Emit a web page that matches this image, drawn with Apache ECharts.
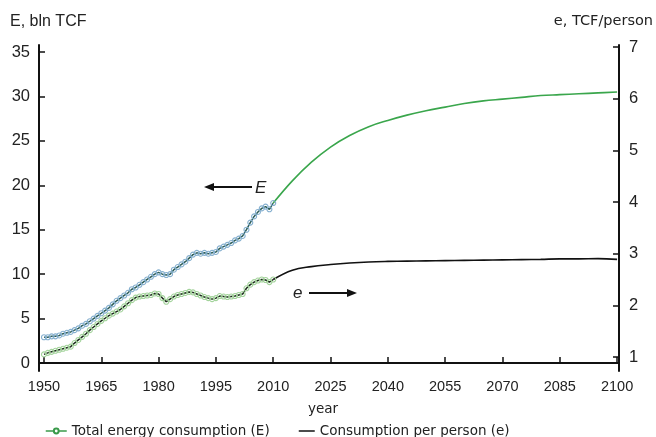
<!DOCTYPE html>
<html>
<head>
<meta charset="utf-8">
<script src="https://cdn.jsdelivr.net/npm/echarts@6/dist/echarts.min.js"></script>
<style>
  html, body { margin: 0; padding: 0; background: #fff; }
  #chart { width: 656px; height: 437px; }
</style>
</head>
<body>
<div id="chart"></div>
<script>
var histYears = [1950, 1951, 1952, 1953, 1954, 1955, 1956, 1957, 1958, 1959,
    1960, 1961, 1962, 1963, 1964, 1965, 1966, 1967, 1968, 1969,
    1970, 1971, 1972, 1973, 1974, 1975, 1976, 1977, 1978, 1979,
    1980, 1981, 1982, 1983, 1984, 1985, 1986, 1987, 1988, 1989,
    1990, 1991, 1992, 1993, 1994, 1995, 1996, 1997, 1998, 1999,
    2000, 2001, 2002, 2003, 2004, 2005, 2006, 2007, 2008, 2009, 2010];

// E, bln TCF (history)
var totalHist = [2.9, 2.9, 3.0, 3.0, 3.1, 3.3, 3.4, 3.5, 3.7, 3.9,
    4.2, 4.4, 4.7, 5.0, 5.3, 5.6, 5.9, 6.2, 6.6, 7.0,
    7.3, 7.6, 7.9, 8.3, 8.5, 8.8, 9.1, 9.4, 9.7, 10.0,
    10.2, 10.0, 9.9, 10.0, 10.5, 10.8, 11.1, 11.4, 11.8, 12.2,
    12.4, 12.3, 12.4, 12.3, 12.4, 12.5, 12.9, 13.1, 13.3, 13.5,
    13.8, 14.0, 14.3, 15.0, 15.8, 16.5, 17.0, 17.4, 17.6, 17.3, 18.0];

// e, TCF/person (history)
var perPersonHist = [1.05, 1.08, 1.10, 1.12, 1.14, 1.16, 1.18, 1.20, 1.27, 1.33,
    1.39, 1.45, 1.52, 1.58, 1.64, 1.70, 1.75, 1.80, 1.84, 1.88,
    1.92, 1.98, 2.04, 2.10, 2.15, 2.17, 2.18, 2.19, 2.20, 2.23,
    2.22, 2.14, 2.07, 2.12, 2.17, 2.20, 2.22, 2.24, 2.26, 2.25,
    2.22, 2.19, 2.16, 2.14, 2.12, 2.14, 2.18, 2.17, 2.16, 2.17,
    2.18, 2.20, 2.22, 2.33, 2.40, 2.45, 2.48, 2.50, 2.49, 2.45, 2.50];

var projYears = [2010, 2015, 2020, 2025, 2030, 2035, 2040, 2045, 2050, 2055,
    2060, 2065, 2070, 2075, 2080, 2085, 2090, 2095, 2100];
var totalProj = [18.0, 20.5, 22.6, 24.3, 25.6, 26.6, 27.3, 27.9, 28.4, 28.8,
    29.2, 29.5, 29.7, 29.9, 30.1, 30.2, 30.3, 30.4, 30.5];
var perPersonProj = [2.50, 2.68, 2.75, 2.79, 2.82, 2.84, 2.85, 2.855, 2.86, 2.865,
    2.87, 2.875, 2.88, 2.885, 2.89, 2.90, 2.90, 2.905, 2.89];

var yearTicks = [1950, 1965, 1980, 1995, 2010, 2025, 2040, 2055, 2070, 2085, 2100];
var leftTicks = [0, 5, 10, 15, 20, 25, 30, 35];
var rightTicks = [1, 2, 3, 4, 5, 6, 7];

var nameE = 'Total energy consumption (E)';
var nameP = 'Consumption per person (e)';

function pairs(xs, ys) {
    var out = [];
    for (var i = 0; i < xs.length; i++) out.push([xs[i], ys[i]]);
    return out;
}
function plain(v) { return String(v); }

var chart = echarts.init(document.getElementById('chart'));

chart.setOption({
    backgroundColor: '#ffffff',
    animation: false,
    grid: { left: 39, right: 37, top: 45, bottom: 66 },
    legend: [
        {
            left: 40, top: 419,
            itemWidth: 21, itemHeight: 6,
            textStyle: { fontFamily: 'DejaVu Sans', fontSize: 13.5, color: '#222' },
            data: [{
                name: nameE,
                itemStyle: { color: '#3a9a4a', borderColor: '#3a9a4a' },
                lineStyle: { color: '#3a9a4a', width: 1.5 }
            }]
        },
        {
            left: 293, top: 419,
            itemWidth: 16, itemHeight: 6,
            textStyle: { fontFamily: 'DejaVu Sans', fontSize: 13.5, color: '#222' },
            data: [{
                name: nameP,
                itemStyle: { color: '#111', borderColor: '#111', opacity: 0 },
                lineStyle: { color: '#111', width: 1.5 }
            }]
        }
    ],
    xAxis: {
        type: 'value',
        min: 1948.7,
        max: 2100.5,
        name: 'year',
        nameLocation: 'middle',
        nameGap: 31,
        nameTextStyle: { fontFamily: 'DejaVu Sans', fontSize: 13.5, color: '#222', padding: [0, 12, 0, 0] },
        axisLine: { lineStyle: { color: '#111', width: 2 } },
        axisTick: { inside: true, length: 6, customValues: yearTicks, lineStyle: { color: '#111', width: 1.5 } },
        axisLabel: { customValues: yearTicks, formatter: plain, fontFamily: 'Liberation Sans', fontSize: 14.5, color: '#222', margin: 8 },
        splitLine: { show: false }
    },
    yAxis: [
        {
            type: 'value',
            min: -0.9,
            max: 35.79,
            position: 'left',
            axisLine: { show: true, lineStyle: { color: '#111', width: 2 } },
            axisTick: { inside: true, length: 6, customValues: leftTicks, lineStyle: { color: '#111', width: 1.5 } },
            axisLabel: { customValues: leftTicks, formatter: plain, fontFamily: 'Liberation Sans', fontSize: 16.5, color: '#222', margin: 9 },
            splitLine: { show: false }
        },
        {
            type: 'value',
            min: 0.729,
            max: 7.039,
            position: 'right',
            axisLine: { show: true, lineStyle: { color: '#111', width: 2 } },
            axisTick: { inside: true, length: 6, customValues: rightTicks, lineStyle: { color: '#111', width: 1.5 } },
            axisLabel: { customValues: rightTicks, formatter: plain, fontFamily: 'Liberation Sans', fontSize: 16.5, color: '#222', margin: 10 },
            splitLine: { show: false }
        }
    ],
    series: [
        {
            name: nameE,
            type: 'line',
            yAxisIndex: 0,
            data: pairs(projYears, totalProj),
            smooth: 0.4,
            showSymbol: false,
            lineStyle: { color: '#3aa64c', width: 1.6 },
            itemStyle: { color: '#3aa64c' },
            z: 2
        },
        {
            name: nameE,
            type: 'line',
            yAxisIndex: 0,
            data: pairs(histYears, totalHist),
            symbol: 'circle',
            symbolSize: 5,
            showAllSymbol: true,
            lineStyle: { color: '#2c5c56', width: 1.5 },
            itemStyle: { color: 'rgba(255,255,255,0)', borderColor: '#86b0cf', borderWidth: 1.1 },
            z: 3
        },
        {
            name: nameP,
            type: 'line',
            yAxisIndex: 1,
            data: pairs(projYears, perPersonProj),
            smooth: 0.4,
            showSymbol: false,
            lineStyle: { color: '#111', width: 1.6 },
            itemStyle: { color: '#111' },
            z: 2
        },
        {
            name: nameP,
            type: 'line',
            yAxisIndex: 1,
            data: pairs(histYears, perPersonHist),
            symbol: 'circle',
            symbolSize: 5,
            showAllSymbol: true,
            lineStyle: { color: '#1a2a1a', width: 1.5 },
            itemStyle: { color: 'rgba(255,255,255,0)', borderColor: '#a3d39b', borderWidth: 1.1 },
            z: 3
        }
    ],
    graphic: [
        { type: 'text', left: 10, top: 14, style: { text: 'E, bln TCF', fontFamily: 'Liberation Sans', fontSize: 16, fill: '#222' } },
        { type: 'text', right: 3, top: 14, style: { text: 'e, TCF/person', fontFamily: 'DejaVu Sans', fontSize: 14.5, fill: '#222' } },
        // arrow pointing to E axis
        { type: 'line', shape: { x1: 212, y1: 187, x2: 252, y2: 187 }, style: { stroke: '#111', lineWidth: 2 } },
        { type: 'polygon', shape: { points: [[204, 187], [214, 183], [214, 191]] }, style: { fill: '#111' } },
        { type: 'text', x: 255, y: 180, style: { text: 'E', fontFamily: 'Liberation Sans', fontStyle: 'italic', fontSize: 17, fill: '#222' } },
        // arrow pointing to e axis
        { type: 'line', shape: { x1: 309, y1: 293, x2: 349, y2: 293 }, style: { stroke: '#111', lineWidth: 2 } },
        { type: 'polygon', shape: { points: [[357, 293], [347, 289], [347, 297]] }, style: { fill: '#111' } },
        { type: 'text', x: 293, y: 285, style: { text: 'e', fontFamily: 'Liberation Sans', fontStyle: 'italic', fontSize: 17, fill: '#222' } }
    ]
});
</script>
</body>
</html>
